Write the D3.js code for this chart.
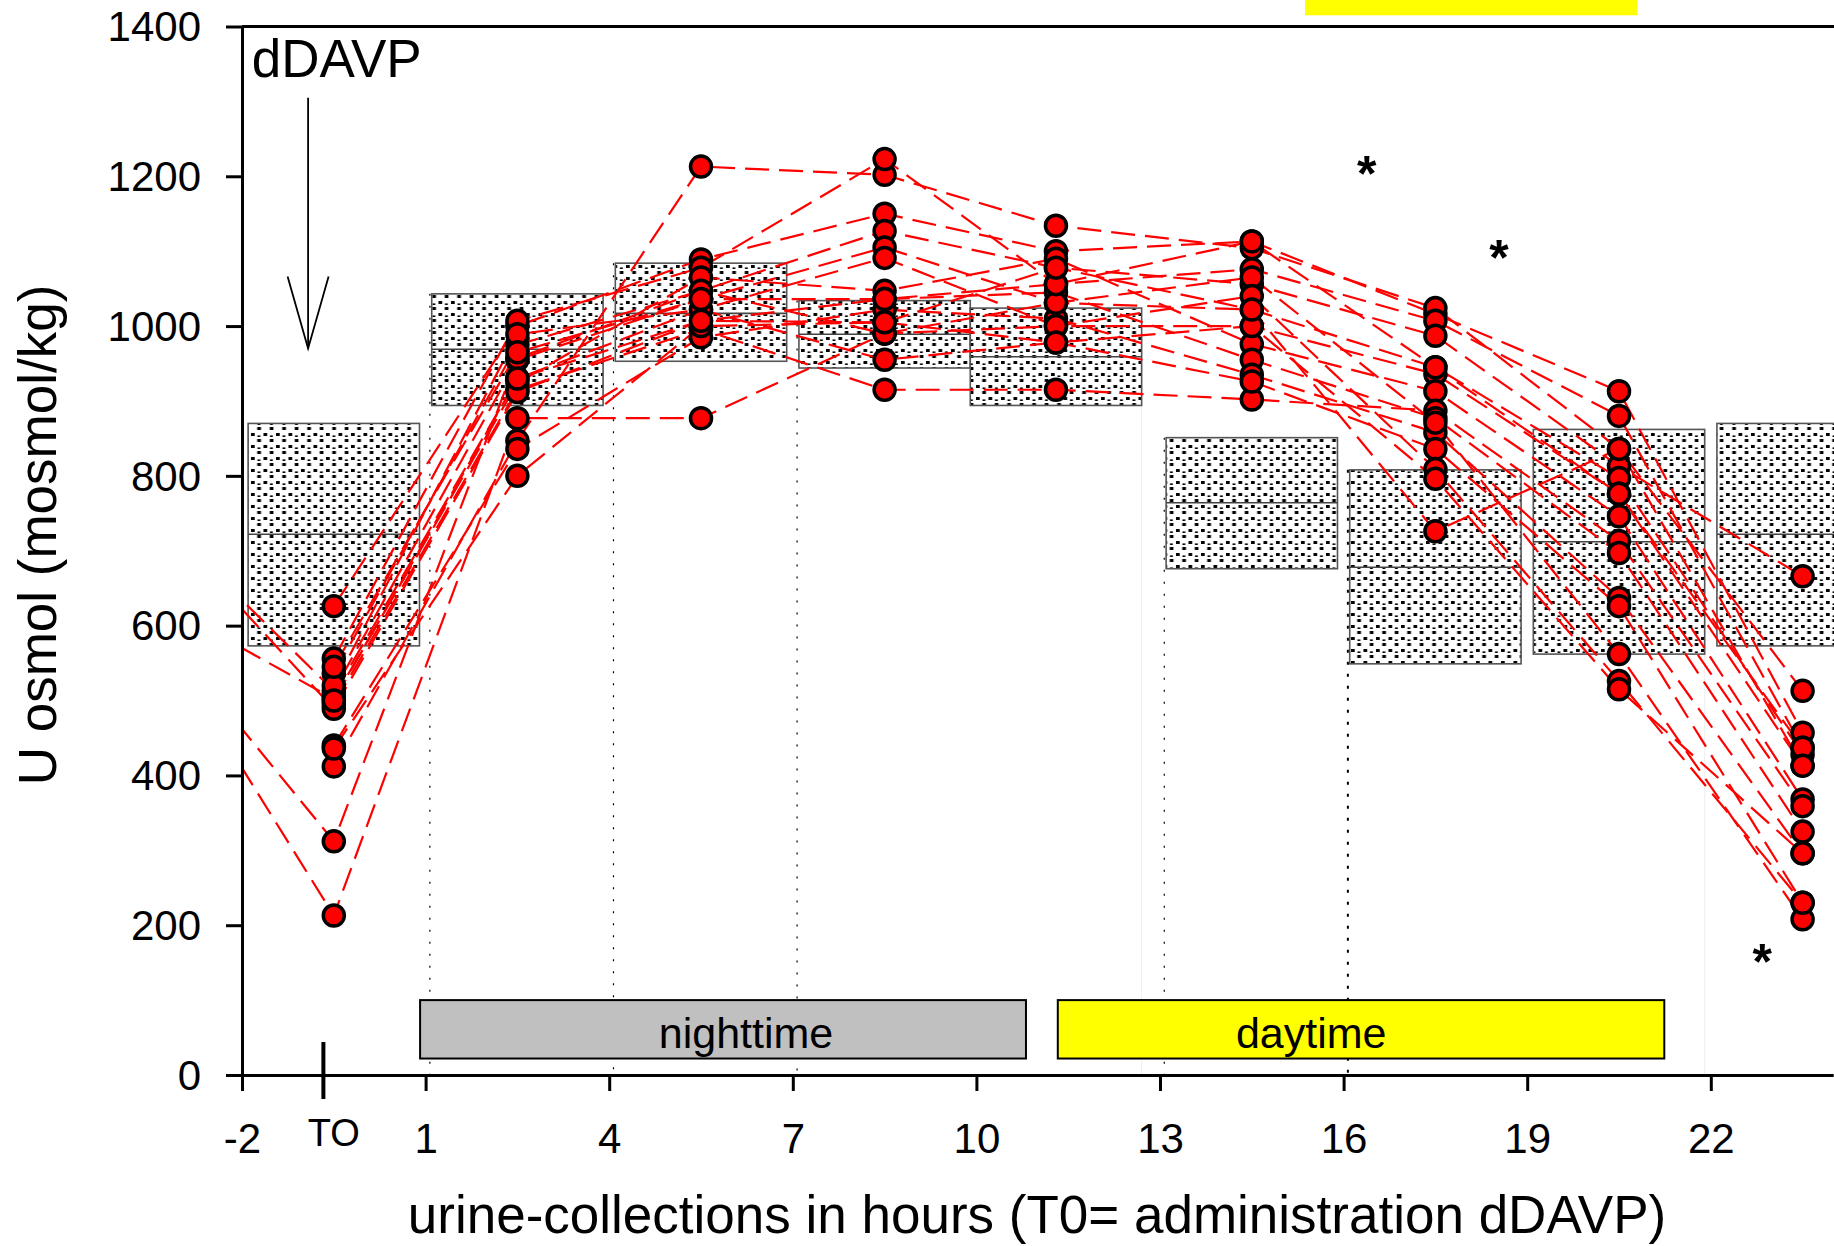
<!DOCTYPE html>
<html><head><meta charset="utf-8">
<script src="https://cdn.jsdelivr.net/npm/d3@7"></script>
<style>
html,body{margin:0;padding:0;background:#fff;}
svg{display:block;}
text{font-family:"Liberation Sans", Arial, sans-serif;fill:#000;}
</style></head><body>
<svg id="chart" width="1834" height="1246"></svg>
<script>
// ---------- data ----------
const hours = [-3.5, -0.5, 2.5, 5.5, 8.5, 11.3, 14.5, 17.5, 20.5, 23.5];
const s01 = [null, 626, 1000, 1089, 1150, 1100, 1113, 1016, 913, 457];
const s02 = [null, 412, 847, 1213, 1202, 1134, 1104, 1024, 836, 513];
const s03 = [null, 556, 1007, 1078, 1223, 1056, 1076, 1007, 880, 437];
const s04 = [null, 536, 975, 1047, 1127, 1078, 1056, 987, 813, 666];
const s05 = [755, 513, 955, 1036, 1105, 1031, 1022, 945, 797, 428];
const s06 = [null, 508, 930, 1022, 1091, 1000, 1000, 936, 776, 413];
const s07 = [638, 502, 924, 1065, 1047, 1090, 976, 913, 746, 368];
const s08 = [null, 495, 915, 996, 915, 915, 902, 887, 713, 359];
const s09 = [755, 489, 912, 1007, 1036, 1045, 955, 877, 697, 325];
const s10 = [null, 440, 836, 985, 1022, 1010, 935, 858, 637, 296];
const s11 = [null, 436, 800, 1000, 1005, 978, 926, 836, 626, 230];
const s12 = [612, 312, 957, 1047, 990, 1031, 1065, 871, 562, 208];
const s13 = [607, 213, 877, 877, 990, 1000, 1040, 809, 526, 230];
const s14 = [null, 520, 989, 1022, 955, 978, 1000, 796, 515, 296];
const s15 = [null, 545, 965, 1036, 1036, 1056, 1113, 945, 776, 437];
const s16 = [null, 500, 930, 1007, 1005, 1078, 1022, 726, 836, 413];
const subjects = [s01,s02,s03,s04,s05,s06,s07,s08,s09,s10,s11,s12,s13,s14,s15,s16];

const boxCenters = [-0.5, 2.5, 5.5, 8.5, 11.3, 14.5, 17.5, 20.5, 23.5];
const boxUpper  = [870, 1043, 1084, 1034, 1024, 851, 808, 862, 870];
const boxMedian = [722, 969, 1017, 989, 959, 764, 678, 712, 722];
const boxLower  = [573, 894, 953, 944, 894, 676, 549, 562, 573];
const dottedAt  = [1, 2, 3, 5, 6]; // indices of boxes with a dotted guide on their left edge

const xTicks = [-2, 1, 4, 7, 10, 13, 16, 19, 22];
const yTicks = [0, 200, 400, 600, 800, 1000, 1200, 1400];

const periodLabels = ["nighttime", "daytime"];
const periodStart  = [0.91, 11.33];
const periodEnd    = [10.81, 21.24];
const periodLabelX = [4.81, 14.24];

const asteriskX = [16.38, 18.54, 22.84];
const asteriskY = [1218, 1105, 165];

// ---------- scales ----------
const svg = d3.select("#chart");
const x = d3.scaleLinear().domain([-2, 24]).range([242, 242 + 26 * 61.2]);
const y = d3.scaleLinear().domain([0, 1400]).range([1075, 26.5]);
const fmt = v => String(v).replace("\u2212", "-");

const defs = svg.append("defs");
const pat = defs.append("pattern").attr("id", "dots").attr("patternUnits", "userSpaceOnUse")
  .attr("width", 12.5).attr("height", 12);
pat.append("rect").attr("width", 12.5).attr("height", 12).attr("fill", "#fff");
pat.append("rect").attr("x", 1).attr("y", 1).attr("width", 3.7).attr("height", 3).attr("fill", "#000");
pat.append("rect").attr("x", 7.25).attr("y", 7).attr("width", 3.7).attr("height", 3).attr("fill", "#000");
pat.append("rect").attr("x", 7.5).attr("y", 3.4).attr("width", 2.8).attr("height", 1.6).attr("fill", "#000");
defs.append("clipPath").attr("id", "plotclip").append("rect")
  .attr("x", x(-2)).attr("y", y(1400)).attr("width", 1834 - x(-2)).attr("height", y(0) - y(1400));

// top yellow fragment
svg.append("rect").attr("x", x(15.37)).attr("y", y(1436)).attr("width", x(20.8) - x(15.37))
  .attr("height", y(1415) - y(1436)).attr("fill", "#ffff00");

// faint guides at right edges of boxes 5 and 8
[4, 7].forEach(i => {
  svg.append("line").attr("x1", x(boxCenters[i] + 1.4)).attr("x2", x(boxCenters[i] + 1.4))
    .attr("y1", y(boxLower[i])).attr("y2", y(0)).attr("stroke", "#eeeeee").attr("stroke-width", 1);
});

// dotted guides
dottedAt.forEach(i => {
  svg.append("line").attr("x1", x(boxCenters[i] - 1.43)).attr("x2", x(boxCenters[i] - 1.43))
    .attr("y1", y(boxUpper[i])).attr("y2", y(0))
    .attr("stroke", "#000").attr("stroke-width", i === 6 ? 2 : 1.2)
    .attr("stroke-dasharray", i === 6 ? "3,9" : "2,10");
});

// boxes
const gb = svg.append("g");
boxCenters.forEach((c, i) => {
  gb.append("rect").attr("x", x(c - 1.4)).attr("y", y(boxUpper[i]))
    .attr("width", x(c + 1.4) - x(c - 1.4)).attr("height", y(boxLower[i]) - y(boxUpper[i]))
    .attr("fill", "url(#dots)").attr("stroke", "#555").attr("stroke-width", 1.6);
  gb.append("line").attr("x1", x(c - 1.4)).attr("x2", x(c + 1.4))
    .attr("y1", y(boxMedian[i])).attr("y2", y(boxMedian[i]))
    .attr("stroke", "#444").attr("stroke-width", 1.6);
});

// period bars
const pColors = ["#c0c0c0", "#ffff00"];
periodLabels.forEach((lab, i) => {
  svg.append("rect").attr("x", x(periodStart[i])).attr("y", y(100))
    .attr("width", x(periodEnd[i]) - x(periodStart[i])).attr("height", y(22) - y(100))
    .attr("fill", pColors[i]).attr("stroke", "#000").attr("stroke-width", 2);
  svg.append("text").attr("x", x(periodLabelX[i])).attr("y", y(36))
    .attr("font-size", 43).text(lab);
});

// subject lines
const gl = svg.append("g").attr("clip-path", "url(#plotclip)");
const line = d3.line().defined(d => d[1] != null).x(d => x(d[0])).y(d => y(d[1]));
subjects.forEach(s => {
  gl.append("path").attr("d", line(hours.map((h, j) => [h, s[j]])))
    .attr("fill", "none").attr("stroke", "#ff0000").attr("stroke-width", 2.2)
    .attr("stroke-dasharray", "24,10");
});

// points
const gp = svg.append("g").attr("clip-path", "url(#plotclip)");
subjects.forEach(s => {
  hours.forEach((h, j) => {
    if (s[j] == null || h < -2) return;
    gp.append("circle").attr("cx", x(h)).attr("cy", y(s[j])).attr("r", 10.5)
      .attr("fill", "#ff0000").attr("stroke", "#000").attr("stroke-width", 3.5);
  });
});

// axes
const yAxis = svg.append("g").attr("transform", `translate(${x(-2)},0)`)
  .call(d3.axisLeft(y).tickValues(yTicks).tickFormat(fmt).tickSize(16).tickSizeOuter(0).tickPadding(25));
yAxis.selectAll("path,line").attr("stroke", "#000").attr("stroke-width", 3);
yAxis.selectAll("text").attr("font-size", 42).attr("font-family", '"Liberation Sans", Arial, sans-serif')
  .attr("dy", "0.34em");

const xAxis = svg.append("g").attr("transform", `translate(0,${y(0)})`)
  .call(d3.axisBottom(x).tickValues(xTicks).tickFormat(fmt).tickSize(16).tickSizeOuter(0));
xAxis.selectAll("path,line").attr("stroke", "#000").attr("stroke-width", 3);
xAxis.selectAll("text").attr("font-size", 42).attr("font-family", '"Liberation Sans", Arial, sans-serif')
  .attr("y", 78).attr("dy", 0);

// top border
svg.append("line").attr("x1", x(-2)).attr("x2", 1834).attr("y1", y(1400)).attr("y2", y(1400))
  .attr("stroke", "#000").attr("stroke-width", 3);

// T0 tick and label
svg.append("line").attr("x1", x(-0.67)).attr("x2", x(-0.67)).attr("y1", y(0) - 33).attr("y2", y(0) + 24)
  .attr("stroke", "#000").attr("stroke-width", 4);
svg.append("text").attr("x", x(-0.5)).attr("y", y(0) + 71).attr("text-anchor", "middle")
  .attr("font-size", 38).text("TO");

// axis titles
svg.append("text").attr("x", 1037).attr("y", 1233).attr("text-anchor", "middle")
  .attr("font-size", 53).text("urine-collections in hours (T0= administration dDAVP)");
svg.append("text").attr("transform", "translate(56,535) rotate(-90)").attr("text-anchor", "middle")
  .attr("font-size", 53).text("U osmol (mosmol/kg)");

// dDAVP annotation + arrow
svg.append("text").attr("x", x(-1.84)).attr("y", y(1333)).attr("font-size", 53).text("dDAVP");
const ax = x(-0.92), aTop = y(1305), aTip = y(970);
svg.append("line").attr("x1", ax).attr("x2", ax).attr("y1", aTop).attr("y2", aTip)
  .attr("stroke", "#000").attr("stroke-width", 1.8);
svg.append("path").attr("d", `M${ax - 20.5},${aTip - 72}L${ax},${aTip}L${ax + 20.5},${aTip - 72}`)
  .attr("fill", "none").attr("stroke", "#000").attr("stroke-width", 1.8);

// asterisks
asteriskX.forEach((ax2, i) => {
  svg.append("text").attr("x", x(ax2)).attr("y", y(asteriskY[i]) + 28).attr("text-anchor", "middle")
    .attr("font-size", 50).attr("font-weight", "bold").text("*");
});
</script>
</body></html>
